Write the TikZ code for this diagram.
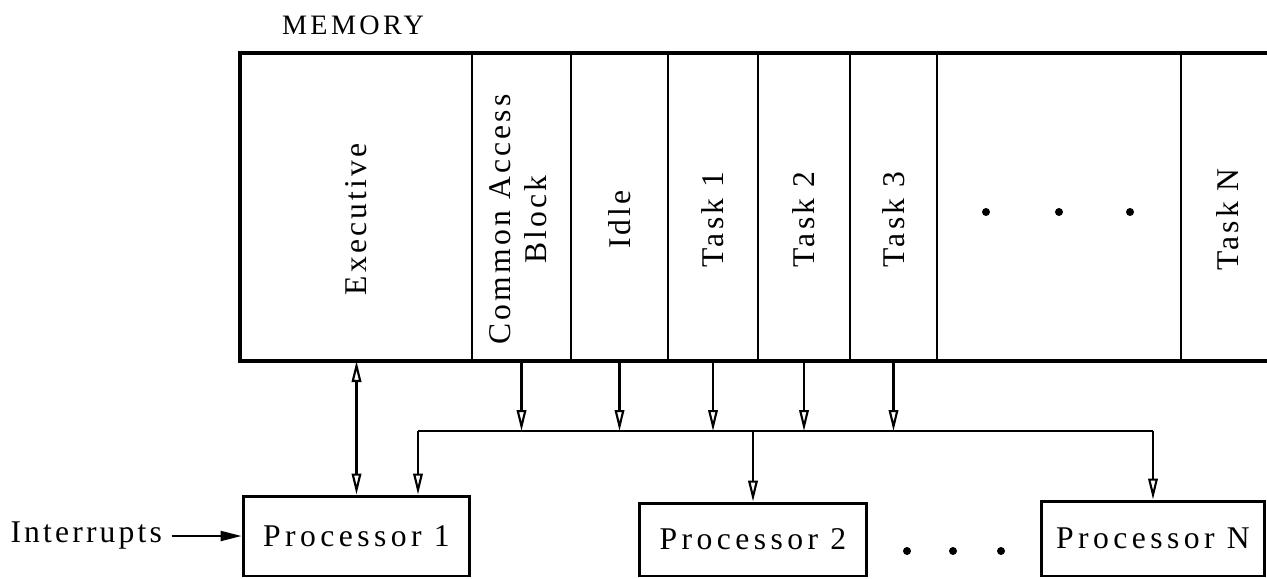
\documentclass[tikz,border=0pt]{standalone}
\usepackage{fontspec}
\newfontfamily\typeface[LetterSpace=10]{Liberation Serif}
\newfontfamily\procface[LetterSpace=14]{Liberation Serif}
\newfontfamily\headface[LetterSpace=12]{Liberation Serif}
\usetikzlibrary{arrows.meta, positioning}

\newcommand{\uptext}[1]{\rotatebox{90}{#1\hspace{0.5cm}}}

\begin{document}
\begin{tikzpicture}[
    x=0.02cm, y=-0.02cm,
    cell/.style={rectangle, draw=black, line width=1.2pt, minimum height=6.12cm, inner sep=0pt, font=\typeface\fontsize{18}{20}\selectfont},
    frame/.style={line width=1.7pt},
    proc/.style={rectangle, draw=black, line width=1.7pt, minimum width=4.54cm, inner sep=0pt, font=\procface\fontsize{18}{20}\selectfont},
    tag/.style={inner sep=1pt, font=\typeface\fontsize{18}{20}\selectfont},
    arrow/.style={-{Triangle[open, length=0.42cm, width=0.19cm]}, line width=1.2pt},
    dblarrow/.style={{Triangle[open, length=0.42cm, width=0.19cm]}-{Triangle[open, length=0.42cm, width=0.19cm]}, line width=1.2pt},
    inarrow/.style={-{Triangle[length=0.42cm, width=0.2cm]}, line width=1.2pt},
    bus/.style={line width=1.5pt}
]
\useasboundingbox (0,0) rectangle (1267,578);
\clip (0,0) rectangle (1267,578);

% Memory blocks
\node[tag, anchor=west, font=\headface\fontsize{16}{18}\selectfont] (memlabel) at (280,25) {MEMORY};
\node[cell, minimum width=4.62cm] (exec) at (356.5,207) {\uptext{Executive}};
\node[cell, minimum width=1.98cm] (cab) at (521.5,207) {\uptext{\begin{tabular}{@{}c@{}}Common Access\\Block\end{tabular}}};
\node[cell, minimum width=1.94cm] (idle) at (619.5,207) {\uptext{Idle}};
\node[cell, minimum width=1.80cm] (task1) at (713,207) {\uptext{Task 1}};
\node[cell, minimum width=1.84cm] (task2) at (804,207) {\uptext{Task 2}};
\node[cell, minimum width=1.74cm] (task3) at (893.5,207) {\uptext{Task 3}};
\node[cell, minimum width=4.88cm] (more) at (1059,207) {};
\node[cell, minimum width=1.88cm] (taskN) at (1228,207) {\uptext{Task N}};
\draw[frame] (taskN.north east) -- (exec.north west) -- (exec.south west) -- (taskN.south east);

\foreach \x in {986,1059,1130}
    \fill (\x,212) circle[radius=4];

% Processors
\node[proc, minimum height=1.6cm] (p1) at (356.5,536) {Processor 1};
\node[proc, minimum width=4.56cm, minimum height=1.46cm] (p2) at (753,539.5) {Processor 2};
\node[proc, minimum width=4.46cm, minimum height=1.5cm] (pn) at (1153,538.5) {Processor N};
\node[tag, left=1.55cm of p1] (intr) {Interrupts};

\foreach \x in {907,953,1001}
    \fill (\x,551) circle[radius=4];

% Bus
\coordinate (busL) at (418,431);
\coordinate (busR) at (1153,431);
\draw[bus] (busL) -- (busR);

% Arrows
\draw[dblarrow] (exec.south) -- (p1.north);
\foreach \c in {cab,idle,task1,task2,task3}
    \draw[arrow] (\c.south) -- (\c.south |- busL);
\draw[arrow] (busL) -- (busL |- p1.north);
\draw[arrow] (p2.north |- busL) -- (p2.north);
\draw[arrow] (busR) -- (busR |- pn.north);
\draw[inarrow] ([xshift=0.15cm]intr.east) -- (p1.west);

\end{tikzpicture}
\end{document}
